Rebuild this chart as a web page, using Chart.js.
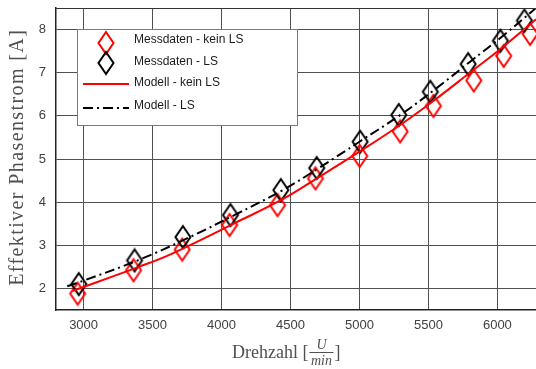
<!DOCTYPE html>
<html>
<head>
<meta charset="utf-8">
<script src="https://cdn.jsdelivr.net/npm/chart.js@4/dist/chart.umd.min.js"></script>
<style>
  html, body { margin: 0; padding: 0; background: #fff; }
  #wrap { width: 536px; height: 369px; }
</style>
</head>
<body>
<div id="wrap"><canvas id="chart" width="536" height="369"></canvas></div>
<script>
  // Messdaten (Drehzahl in U/min, Strom in A)
  var rpmKeinLS   = [2957, 3362, 3715, 4058, 4406, 4681, 5002, 5295, 5536, 5829, 6046, 6237];
  var stromKeinLS = [1.88, 2.42, 2.90, 3.47, 3.93, 4.55, 5.07, 5.64, 6.23, 6.82, 7.39, 7.90];
  var rpmLS       = [2965, 3370, 3720, 4065, 4430, 4690, 5005, 5285, 5514, 5788, 6022, 6196];
  var stromLS     = [2.10, 2.65, 3.19, 3.70, 4.28, 4.79, 5.40, 6.02, 6.56, 7.20, 7.74, 8.21];

  // Modellkurven
  var modelRpmKeinLS = [2918, 3400, 3630, 4100, 4450, 4700, 5000, 5300, 5550, 5800, 6050, 6280];
  var modelKeinLS    = [1.94, 2.50, 2.79, 3.52, 4.08, 4.57, 5.17, 5.80, 6.38, 7.00, 7.62, 8.24];
  var modelRpmLS     = [2882, 3000, 3400, 3750, 4100, 4450, 4700, 5000, 5300, 5550, 5800, 6050, 6280];
  var modelLS        = [2.05, 2.18, 2.66, 3.16, 3.71, 4.29, 4.78, 5.40, 6.03, 6.62, 7.25, 7.88, 8.50];

  var xTicks = [3000, 3500, 4000, 4500, 5000, 5500, 6000];
  var yTicks = [2, 3, 4, 5, 6, 7, 8];

  var RED = '#ff0000';
  var BLACK = '#000000';
  var GRID = '#505050';
  var SERIF = '"Liberation Serif", "DejaVu Serif", serif';
  var SANS = '"Liberation Sans", Arial, sans-serif';

  function zip(xs, ys) {
    return xs.map(function (x, i) { return { x: x, y: ys[i] }; });
  }

  /**
   * Elongated hollow diamond used as point style.
   */
  function diamond(color) {
    var c = document.createElement('canvas');
    c.width = 20;
    c.height = 26;
    var g = c.getContext('2d');
    g.strokeStyle = color;
    g.lineWidth = 2;
    g.beginPath();
    g.moveTo(10, 2);
    g.lineTo(17.5, 13);
    g.lineTo(10, 24);
    g.lineTo(2.5, 13);
    g.closePath();
    g.stroke();
    return c;
  }

  var redDiamond = diamond(RED);
  var blackDiamond = diamond(BLACK);

  // Legend box inside the plot, plus top frame line.
  var legendBox = {
    id: 'legendBox',
    afterDraw: function (chart) {
      var ctx = chart.ctx;
      var a = chart.chartArea;
      ctx.save();
      ctx.strokeStyle = '#333';
      ctx.lineWidth = 1;
      ctx.beginPath();
      ctx.moveTo(a.left, a.top + 0.5);
      ctx.lineTo(a.right, a.top + 0.5);
      ctx.stroke();

      ctx.fillStyle = '#fff';
      ctx.fillRect(77, 29, 220, 96);
      ctx.strokeStyle = '#7a7a7a';
      ctx.strokeRect(77.5, 29.5, 220, 96);

      ctx.drawImage(redDiamond, 96, 30);
      ctx.drawImage(blackDiamond, 96, 50);

      ctx.lineWidth = 2;
      ctx.strokeStyle = RED;
      ctx.beginPath();
      ctx.moveTo(83, 84);
      ctx.lineTo(129, 84);
      ctx.stroke();

      ctx.strokeStyle = BLACK;
      ctx.setLineDash([10, 4, 2, 4]);
      ctx.beginPath();
      ctx.moveTo(83, 108);
      ctx.lineTo(129, 108);
      ctx.stroke();
      ctx.setLineDash([]);

      ctx.fillStyle = '#1a1a1a';
      ctx.font = '12px ' + SANS;
      ctx.textBaseline = 'middle';
      ctx.textAlign = 'left';
      ctx.fillText('Messdaten - kein LS', 134, 40);
      ctx.fillText('Messdaten - LS', 134, 62);
      ctx.fillText('Modell - kein LS', 134, 83);
      ctx.fillText('Modell - LS', 134, 106);
      ctx.restore();
    }
  };

  // Axis titles in serif, x title with fraction U/min.
  var axisTitles = {
    id: 'axisTitles',
    afterDraw: function (chart) {
      var ctx = chart.ctx;
      ctx.save();
      ctx.fillStyle = '#505050';
      ctx.textAlign = 'center';
      ctx.textBaseline = 'middle';

      // y title, spread a little to the reference length
      var yTitle = 'Effektiver Phasenstrom [A]';
      ctx.font = '20px ' + SERIF;
      var w = ctx.measureText(yTitle).width;
      var spacing = Math.max(0, (257 - w) / yTitle.length);
      ctx.save();
      ctx.translate(18, 158);
      ctx.rotate(-Math.PI / 2);
      if ('letterSpacing' in ctx) {
        ctx.letterSpacing = spacing.toFixed(2) + 'px';
        ctx.fillText(yTitle, spacing / 2, 0);
        ctx.letterSpacing = '0px';
      } else {
        ctx.fillText(yTitle, 0, 0);
      }
      ctx.restore();

      // Drehzahl [U/min]
      ctx.font = '18px ' + SERIF;
      ctx.textAlign = 'left';
      ctx.textBaseline = 'alphabetic';
      var base = 358;
      var x = 232;
      var t1 = 'Drehzahl [';
      ctx.fillText(t1, x, base);
      x += ctx.measureText(t1).width + 1;
      ctx.font = 'italic 14px ' + SERIF;
      var wU = ctx.measureText('U').width;
      var wMin = ctx.measureText('min').width;
      var fw = Math.max(wU, wMin) + 3;
      ctx.fillText('U', x + (fw - wU) / 2, base - 9);
      ctx.fillText('min', x + (fw - wMin) / 2, base + 7);
      ctx.strokeStyle = '#505050';
      ctx.lineWidth = 1;
      ctx.beginPath();
      ctx.moveTo(x, base - 5.5);
      ctx.lineTo(x + fw, base - 5.5);
      ctx.stroke();
      x += fw + 1;
      ctx.font = '18px ' + SERIF;
      ctx.fillText(']', x, base);
      ctx.restore();
    }
  };

  function plain(v) { return String(v); }

  new Chart(document.getElementById('chart').getContext('2d'), {
    type: 'scatter',
    data: {
      datasets: [
        {
          label: 'Modell - LS',
          type: 'line',
          data: zip(modelRpmLS, modelLS),
          borderColor: BLACK,
          borderWidth: 2,
          borderDash: [10, 4, 2, 4],
          pointRadius: 0,
          tension: 0.4,
          fill: false,
          order: 1
        },
        {
          label: 'Modell - kein LS',
          type: 'line',
          data: zip(modelRpmKeinLS, modelKeinLS),
          borderColor: RED,
          borderWidth: 2,
          pointRadius: 0,
          tension: 0.4,
          fill: false,
          order: 2
        },
        {
          label: 'Messdaten - LS',
          data: zip(rpmLS, stromLS),
          pointStyle: blackDiamond,
          showLine: false,
          order: 3
        },
        {
          label: 'Messdaten - kein LS',
          data: zip(rpmKeinLS, stromKeinLS),
          pointStyle: redDiamond,
          showLine: false,
          order: 4
        }
      ]
    },
    options: {
      responsive: false,
      animation: false,
      layout: { autoPadding: false, padding: { top: 8, right: 0, left: 0, bottom: 0 } },
      plugins: {
        legend: { display: false },
        tooltip: { enabled: false }
      },
      scales: {
        x: {
          type: 'linear',
          min: 2800,
          max: 6280,
          afterBuildTicks: function (scale) {
            scale.ticks = xTicks.map(function (v) { return { value: v }; });
          },
          afterFit: function (scale) {
            scale.height = 59;
            scale.paddingLeft = 0;
            scale.paddingRight = 0;
          },
          grid: { color: GRID, lineWidth: 1, drawTicks: false },
          border: { display: true, color: '#222', width: 1.5 },
          ticks: {
            padding: 8,
            color: '#404040',
            callback: plain,
            font: { family: SANS, size: 13 }
          }
        },
        y: {
          type: 'linear',
          min: 1.5,
          max: 8.5,
          afterBuildTicks: function (scale) {
            scale.ticks = yTicks.map(function (v) { return { value: v }; });
          },
          afterFit: function (scale) {
            scale.width = 56;
            scale.paddingTop = 0;
            scale.paddingBottom = 0;
          },
          grid: { color: GRID, lineWidth: 1, drawTicks: false },
          border: { display: true, color: '#222', width: 1.5 },
          ticks: {
            padding: 10,
            color: '#404040',
            callback: plain,
            font: { family: SANS, size: 13 }
          }
        }
      }
    },
    plugins: [legendBox, axisTitles]
  });
</script>
</body>
</html>
